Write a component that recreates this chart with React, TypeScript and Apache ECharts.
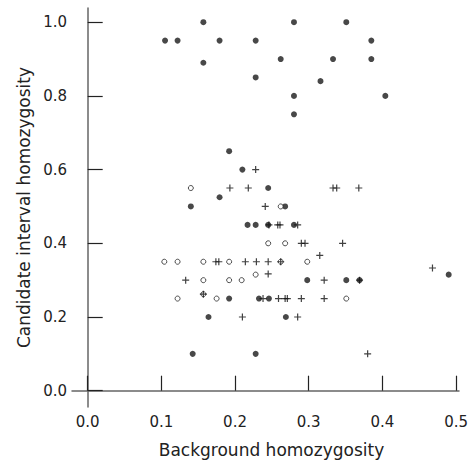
import React, { useEffect, useRef } from "react";
import * as echarts from "echarts";

const xTicks = [0, 0.1, 0.2, 0.3, 0.4, 0.5];
const yTicks = [0, 0.2, 0.4, 0.6, 0.8, 1.0];

const filledPoints = [
  [0.105, 0.95], [0.122, 0.95], [0.157, 1.0], [0.157, 0.89], [0.179, 0.95],
  [0.228, 0.95], [0.228, 0.85], [0.262, 0.9], [0.28, 1.0], [0.28, 0.8],
  [0.28, 0.75], [0.316, 0.84], [0.333, 0.9], [0.351, 1.0], [0.385, 0.95],
  [0.385, 0.9], [0.404, 0.8],
  [0.192, 0.65], [0.21, 0.6], [0.245, 0.55], [0.179, 0.525], [0.14, 0.5],
  [0.268, 0.5], [0.217, 0.45], [0.228, 0.45], [0.245, 0.45], [0.28, 0.45],
  [0.49, 0.315], [0.298, 0.3], [0.351, 0.3], [0.369, 0.3], [0.192, 0.25],
  [0.2325, 0.25], [0.246, 0.25], [0.164, 0.2], [0.269, 0.2], [0.1425, 0.1],
  [0.228, 0.1],
];

const openPoints = [
  [0.14, 0.55], [0.262, 0.5], [0.245, 0.4], [0.268, 0.4], [0.104, 0.35],
  [0.122, 0.35], [0.157, 0.35], [0.192, 0.35], [0.262, 0.35], [0.298, 0.35],
  [0.228, 0.315], [0.157, 0.3], [0.192, 0.3], [0.209, 0.3], [0.122, 0.25],
  [0.157, 0.262], [0.175, 0.25], [0.351, 0.25],
];

const plusPoints = [
  [0.228, 0.6], [0.193, 0.55], [0.218, 0.55], [0.333, 0.55], [0.338, 0.55],
  [0.368, 0.55], [0.241, 0.5], [0.246, 0.45], [0.258, 0.45], [0.261, 0.45],
  [0.285, 0.45], [0.29, 0.4], [0.295, 0.4], [0.346, 0.4], [0.315, 0.367],
  [0.174, 0.35], [0.178, 0.35], [0.214, 0.35], [0.229, 0.35], [0.245, 0.35],
  [0.262, 0.35], [0.468, 0.333], [0.245, 0.317], [0.133, 0.3], [0.321, 0.3],
  [0.369, 0.3], [0.157, 0.262], [0.238, 0.25], [0.259, 0.25], [0.268, 0.25],
  [0.271, 0.25], [0.29, 0.25], [0.321, 0.25], [0.21, 0.2], [0.285, 0.2],
  [0.38, 0.1],
];

const FONT = "DejaVu Sans";

export default function App() {
  const ref = useRef<HTMLDivElement>(null);
  useEffect(() => {
    if (!ref.current) return;
    const chart = echarts.init(ref.current, undefined, { renderer: "svg" });
    const axisCommon = {
      axisLine: { show: true, lineStyle: { color: "#666", width: 1.5 } },
      axisTick: { show: true, inside: true, length: 15, lineStyle: { color: "#222", width: 1.2 } },
      splitLine: { show: false },
      nameLocation: "middle" as const,
      nameTextStyle: { fontFamily: FONT, fontSize: 17, color: "#222" },
    };
    chart.setOption({
      animation: false,
      backgroundColor: "#fff",
      grid: { left: 72, right: 12, top: 8, bottom: 59, containLabel: false },
      xAxis: {
        type: "value",
        min: -0.0213,
        max: 0.504,
        name: "Background homozygosity",
        nameGap: 34,
        ...axisCommon,
        nameTextStyle: { ...axisCommon.nameTextStyle, padding: [0, 0, 0, 12] },
        axisTick: { ...axisCommon.axisTick, customValues: xTicks },
        axisLabel: {
          customValues: xTicks,
          formatter: (v: number) => v.toFixed(1),
          fontFamily: FONT,
          fontSize: 15,
          color: "#222",
          margin: 7,
        },
      },
      yAxis: {
        type: "value",
        min: -0.0442,
        max: 1.0385,
        name: "Candidate interval homozygosity",
        nameGap: 40,
        ...axisCommon,
        axisTick: { ...axisCommon.axisTick, customValues: yTicks },
        axisLabel: {
          customValues: yTicks,
          formatter: (v: number) => v.toFixed(1),
          fontFamily: FONT,
          fontSize: 15,
          color: "#222",
          margin: 5,
        },
      },
      series: [
        {
          type: "scatter",
          data: filledPoints,
          symbol: "circle",
          symbolSize: 6,
          itemStyle: { color: "#1a1a1a" },
        },
        {
          type: "scatter",
          data: openPoints,
          symbol: "circle",
          symbolSize: 5,
          itemStyle: { color: "#fff", borderColor: "#222", borderWidth: 1 },
        },
        {
          type: "scatter",
          data: plusPoints,
          symbol: "path://M5,0L5,10M0,5L10,5",
          symbolSize: 7,
          itemStyle: { color: "none", borderColor: "#111", borderWidth: 1.2 },
        },
      ],
    });
    return () => chart.dispose();
  }, []);
  return <div ref={ref} style={{ width: 471, height: 466, position: "absolute", left: 0, top: 0 }} />;
}
